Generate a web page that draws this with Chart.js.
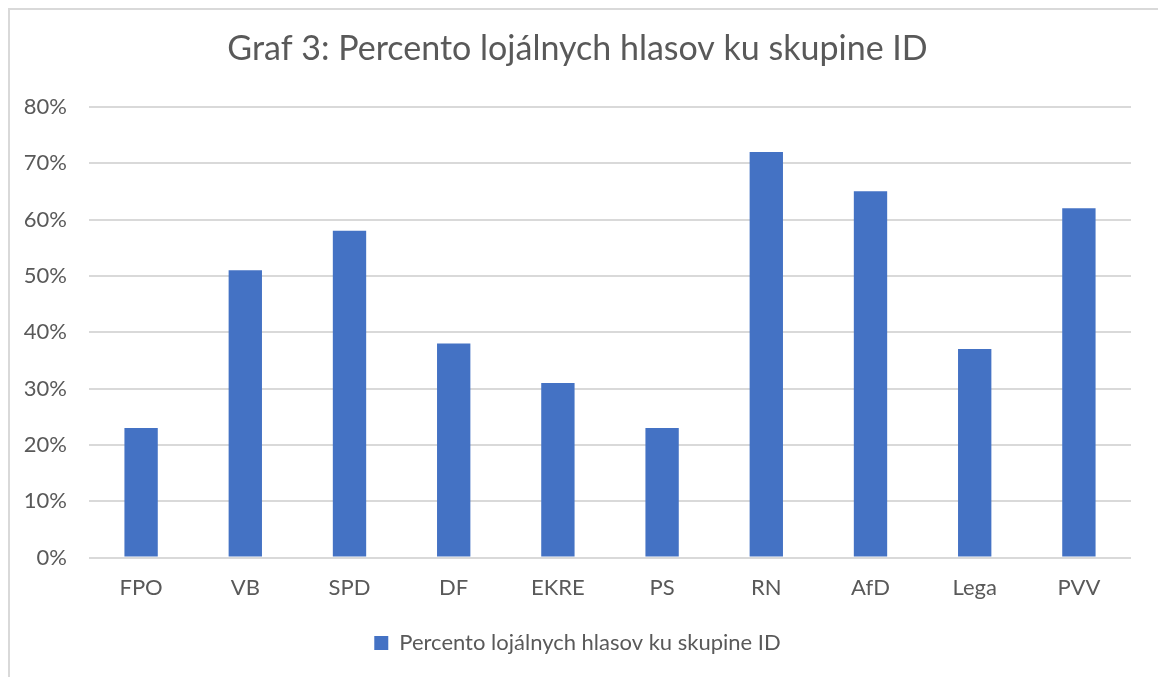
<!DOCTYPE html>
<html>
<head>
<meta charset="utf-8">
<script src="https://cdn.jsdelivr.net/npm/chart.js@4.4.0/dist/chart.umd.min.js"></script>
<style>
  html, body { margin: 0; padding: 0; background: #fff; overflow: hidden; }
  #wrap { position: relative; width: 1158px; height: 677px; }
  #frame { position: absolute; left: 8px; top: 8px; width: 1200px; height: 720px; border: 2px solid #d9d9d9; box-sizing: border-box; }
  canvas { position: absolute; left: 0; top: 0; }
</style>
</head>
<body>
<div id="wrap">
  <div id="frame"></div>
  <canvas id="graf" width="1158" height="677"></canvas>
</div>
<script>
// Graf 3 - percento lojalnych hlasov
const kategorie = ['FPO', 'VB', 'SPD', 'DF', 'EKRE', 'PS', 'RN', 'AfD', 'Lega', 'PVV'];
const hodnoty = [23, 51, 58, 38, 31, 23, 72, 65, 37, 62];
const yTicky = [0, 10, 20, 30, 40, 50, 60, 70, 80];

const nazovSerie = 'Percento lojálnych hlasov ku skupine ID';
const font = 'Lato, "Open Sans", sans-serif';
const sivaText = '#595959';

new Chart(document.getElementById('graf'), {
    type: 'bar',
    data: {
        labels: kategorie,
        datasets: [{
            label: nazovSerie,
            data: hodnoty,
            backgroundColor: '#4472c4',
            borderWidth: 0,
            barPercentage: 0.32,
            categoryPercentage: 1.0
        }]
    },
    options: {
        responsive: false,
        animation: false,
        // lavy okraj len 24, inak Chart.js oreze popisky osi y
        layout: { padding: { left: 24, right: 27, top: 29, bottom: 13 } },
        plugins: {
            title: {
                display: true,
                text: 'Graf 3: Percento lojálnych hlasov ku skupine ID',
                color: sivaText,
                font: { family: font, size: 34, weight: 'normal' },
                padding: { top: 0, bottom: 37 }
            },
            legend: {
                position: 'bottom',
                labels: {
                    color: sivaText,
                    font: { family: font, size: 22 },
                    boxWidth: 14,
                    boxHeight: 14,
                    padding: 22
                }
            },
            tooltip: { enabled: false }
        },
        scales: {
            y: {
                min: 0,
                max: 80,
                afterBuildTicks: s => { s.ticks = yTicky.map(v => ({ value: v })); },
                afterFit: s => { s.width = 65; },
                border: { display: false },
                grid: { color: '#d9d9d9', lineWidth: 2, drawTicks: false },
                ticks: {
                    padding: 22,
                    color: sivaText,
                    font: { family: font, size: 22 },
                    callback: v => v + '%'
                }
            },
            x: {
                border: { display: false },
                grid: { display: false },
                ticks: {
                    padding: 9,
                    color: sivaText,
                    font: { family: font, size: 22 }
                }
            }
        }
    }
});
</script>
</body>
</html>
